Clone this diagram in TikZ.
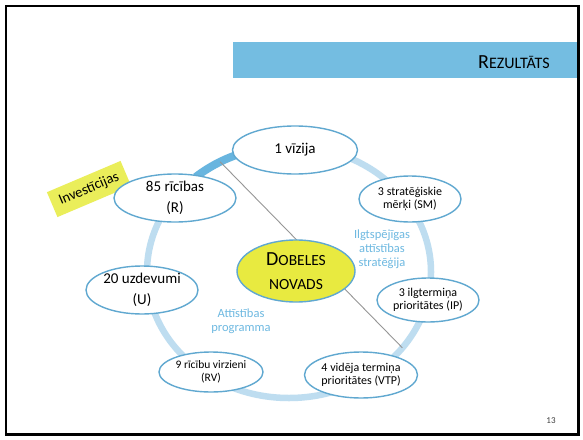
\documentclass[tikz,border=0pt]{standalone}
\usepackage{fontspec}
\setmainfont{Carlito}
\usetikzlibrary{shapes.geometric}
\definecolor{banner}{RGB}{116,189,225}
\definecolor{ringlight}{RGB}{190,221,240}
\definecolor{ringdark}{RGB}{104,181,223}
\definecolor{elb}{RGB}{96,168,208}
\definecolor{lblc}{RGB}{110,185,225}
\definecolor{yl}{RGB}{232,234,64}
\definecolor{yltwo}{RGB}{234,238,90}
\definecolor{chordc}{RGB}{150,150,150}
\begin{document}
\begin{tikzpicture}[x=1pt,y=-1pt,
  ell/.style={ellipse, draw=elb, line width=1.4pt, fill=white, inner sep=0pt, align=center},
  bigtxt/.style={font=\fontsize{15}{20.5}\selectfont},
  smalltxt/.style={font=\fontsize{12}{12.5}\selectfont},
  lbl/.style={text=lblc, align=center, font=\fontsize{12.5}{14}\selectfont, inner sep=0pt}]
\useasboundingbox (0,0) rectangle (583,439);
\fill[white] (0,0) rectangle (583,439);
\fill[banner] (233,42) rectangle (579,78);
\draw[black, line width=2.5pt] (6,6) rectangle (578.5,434.5);
\node[inner sep=0pt, anchor=base] (title) at (514,68) {{\fontsize{20}{20}\selectfont R}{\fontsize{16}{20}\selectfont EZULTĀTS}};
% ring
\draw[ringlight, line width=6.5pt] (289,272) ellipse [x radius=142, y radius=126];
\draw[ringdark, line width=8pt] plot[domain=104:131, samples=30, smooth] ({289+142*cos(\x)},{272-126*sin(\x)});
\coordinate (c1) at ({289+142*cos(119)},{272-126*sin(119)});
\coordinate (c2) at ({289+142*cos(-37)},{272-126*sin(-37)});
\draw[chordc, line width=0.9pt] (c1) -- (c2);
% centre
\node[ellipse, draw=elb, line width=1.4pt, fill=yl, minimum width=118, minimum height=62, inner sep=0pt, align=center, font=\fontsize{15.5}{24}\selectfont] (dob) at (296,271) {{\fontsize{20}{24}\selectfont D}OBELES\\NOVADS};
% tag behind the R ellipse
\node[rotate=23, fill=yltwo, minimum width=80, minimum height=27, inner sep=0pt, font=\fontsize{14.5}{15}\selectfont] (inv) at (89,189) {Investīcijas};
% ring nodes
\node[ell, bigtxt, minimum width=125, minimum height=48] (viz) at (295,150) {1 vīzija};
\node[ell, bigtxt, minimum width=122, minimum height=48] (ric) at (175,198) {85 rīcības\\(R)};
\node[ell, smalltxt, minimum width=102, minimum height=46] (sm) at (410,199) {3 stratēģiskie\\mērķi (SM)};
\node[ell, smalltxt, minimum width=102, minimum height=44] (ip) at (428,300) {3 ilgtermiņa\\prioritātes (IP)};
\node[ell, smalltxt, minimum width=113, minimum height=46] (vtp) at (361,375) {4 vidēja termiņa\\prioritātes (VTP)};
\node[ell, font=\fontsize{11.5}{12.5}\selectfont, minimum width=104, minimum height=40] (rv) at (211,372) {9 rīcību virzieni\\(RV)};
\node[ell, bigtxt, minimum width=112, minimum height=48] (u) at (142,290) {20 uzdevumi\\(U)};
% labels
\node[lbl] (isa) at (382,249) {Ilgtspējīgas\\attīstības\\stratēģija};
\node[lbl] (ap) at (241,321) {Attīstības\\programma};
\node[font=\fontsize{9}{10}\selectfont, text=black!75] (pg) at (551,421) {13};
\end{tikzpicture}
\end{document}
